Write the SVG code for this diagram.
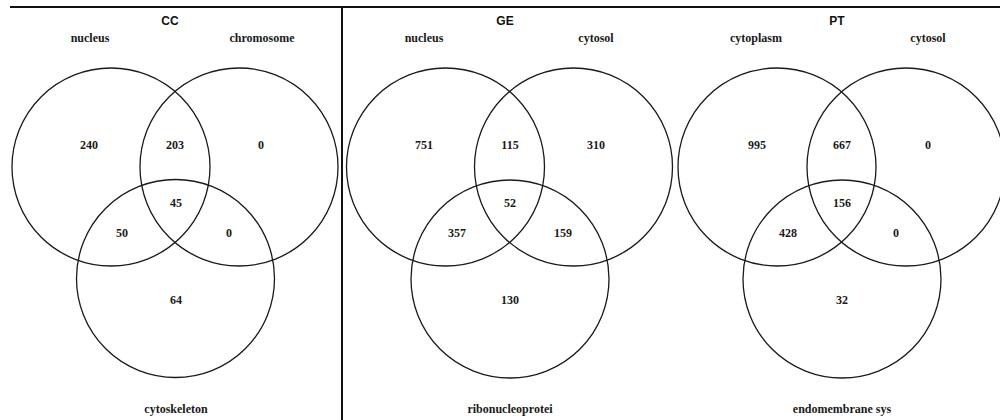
<svg xmlns="http://www.w3.org/2000/svg" width="1000" height="420" viewBox="0 0 1000 420">
<style>
.c{fill:none;stroke:#1a1a1a;stroke-width:1.3}
.n{font-family:"Liberation Serif","Times New Roman",serif;font-weight:bold;font-size:12px;fill:#1a1a1a;text-anchor:middle;dominant-baseline:central}
.t{font-family:"Liberation Sans",Arial,sans-serif;font-weight:bold;font-size:12px;fill:#111;text-anchor:middle;dominant-baseline:central}
.f{stroke:#111;stroke-width:2}
</style>
<rect width="1000" height="420" fill="#fff"/>
<g id="frame">
<line class="f" x1="10" y1="7" x2="1000" y2="7"/>
<line class="f" x1="342" y1="7" x2="342" y2="420"/>
</g>
<g id="panel-cc">
<text class="t" x="170" y="21">CC</text>
<text class="n" x="90" y="38">nucleus</text>
<text class="n" x="262" y="38">chromosome</text>
<circle class="c" cx="111" cy="167" r="99"/>
<circle class="c" cx="239" cy="167" r="99"/>
<circle class="c" cx="175.5" cy="278.5" r="99"/>
<text class="n" x="89" y="145">240</text>
<text class="n" x="175" y="145">203</text>
<text class="n" x="261" y="145">0</text>
<text class="n" x="176" y="203">45</text>
<text class="n" x="122" y="233">50</text>
<text class="n" x="229" y="233">0</text>
<text class="n" x="176" y="300">64</text>
<text class="n" x="176" y="409">cytoskeleton</text>
</g>
<g id="panel-ge">
<text class="t" x="505" y="21">GE</text>
<text class="n" x="424" y="38">nucleus</text>
<text class="n" x="596" y="38">cytosol</text>
<circle class="c" cx="445.5" cy="167" r="99"/>
<circle class="c" cx="573.5" cy="167" r="99"/>
<circle class="c" cx="510" cy="279" r="99"/>
<text class="n" x="424" y="145">751</text>
<text class="n" x="510" y="145">115</text>
<text class="n" x="596" y="145">310</text>
<text class="n" x="510" y="203">52</text>
<text class="n" x="457" y="233">357</text>
<text class="n" x="563" y="233">159</text>
<text class="n" x="510" y="300">130</text>
<text class="n" x="510" y="409">ribonucleoprotei</text>
</g>
<g id="panel-pt">
<text class="t" x="837" y="21">PT</text>
<text class="n" x="756" y="38">cytoplasm</text>
<text class="n" x="928" y="38">cytosol</text>
<circle class="c" cx="777" cy="167" r="99"/>
<circle class="c" cx="906" cy="167" r="99"/>
<circle class="c" cx="842" cy="279" r="99"/>
<text class="n" x="757" y="145">995</text>
<text class="n" x="842" y="145">667</text>
<text class="n" x="928" y="145">0</text>
<text class="n" x="842" y="203">156</text>
<text class="n" x="788" y="233">428</text>
<text class="n" x="896" y="233">0</text>
<text class="n" x="842" y="300">32</text>
<text class="n" x="842" y="409">endomembrane sys</text>
</g>
<g id="connectors"></g>
</svg>
